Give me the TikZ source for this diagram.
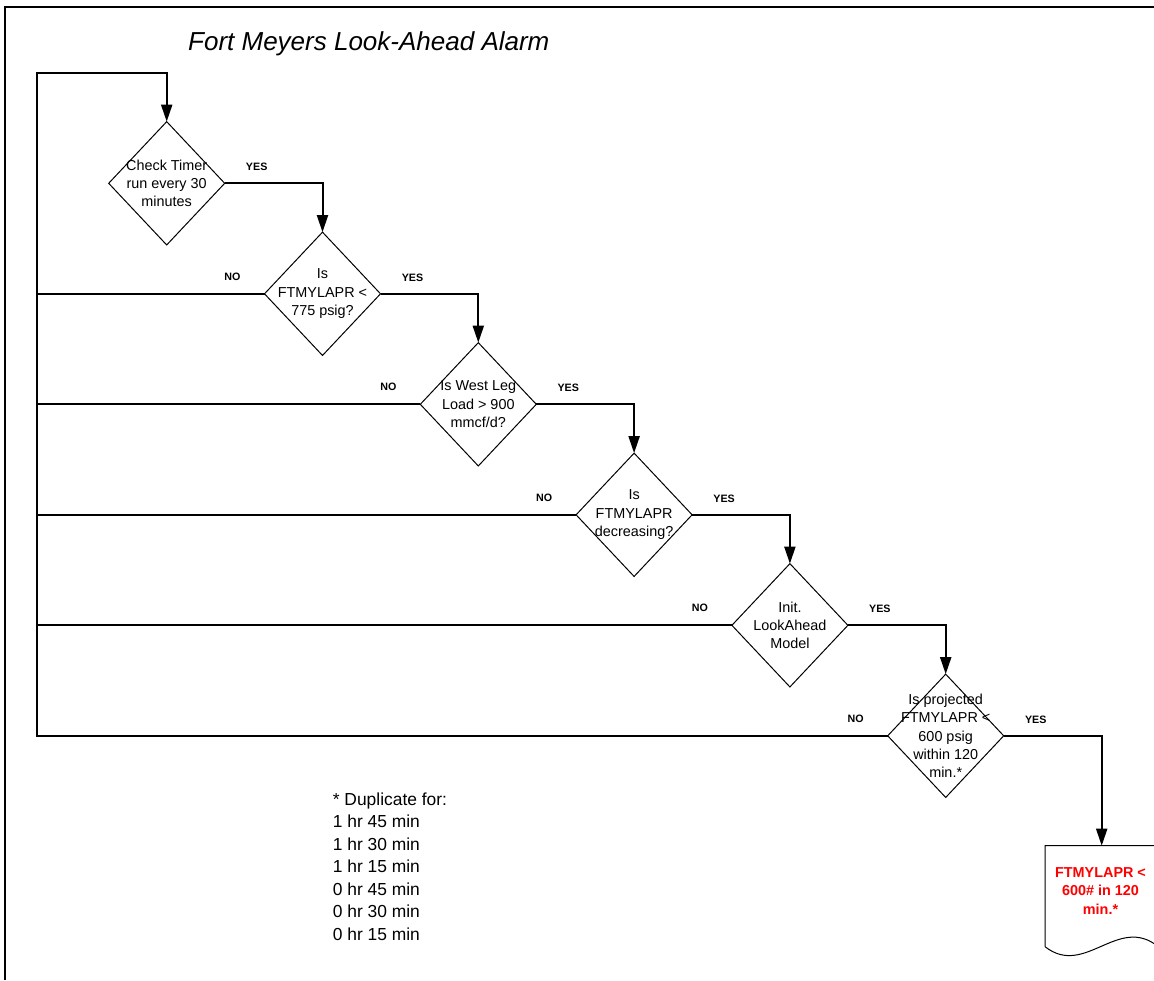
\documentclass[tikz,border=0pt]{standalone}
\usepackage{fontspec}
\setmainfont{Liberation Sans}
\usetikzlibrary{shapes.geometric,arrows.meta}
\definecolor{alarmred}{RGB}{255,0,0}
\begin{document}
\begin{tikzpicture}[x=1pt,y=-1pt,
  dec/.style={diamond, draw, line width=1pt, minimum width=116pt, minimum height=123.3pt, inner sep=0pt, outer sep=0pt},
  dtext/.style={align=center, font=\fontsize{14.4}{18.3}\selectfont, inner sep=0pt},
  conn/.style={line width=2pt},
  arr/.style={-{Triangle[length=17pt,width=11pt]}},
  yn/.style={font=\fontsize{10.7}{12}\selectfont\bfseries, inner sep=0pt},
  frame/.style={line width=2.4pt},
]
\useasboundingbox (0,0) rectangle (1154,980);
% page frame
\draw[frame] (5.2,980) -- (5.2,6.8) -- (1154,6.8);
% title
\node[anchor=base west, inner sep=0pt, font=\fontsize{26}{30}\selectfont\itshape] (title) at (188,50) {Fort Meyers Look-Ahead Alarm};
% decisions
\node[dec] (d1) at (166.7,183.3) {};
\node[dec] (d2) at (322.5,293.8) {};
\node[dec] (d3) at (478.3,404.3) {};
\node[dec] (d4) at (634.1,514.8) {};
\node[dec] (d5) at (789.9,625.3) {};
\node[dec] (d6) at (945.7,735.8) {};
\node[dtext] (t1) at (d1) {Check Timer\\run every 30\\minutes};
\node[dtext] (t2) at (d2) {Is\\FTMYLAPR <\\775 psig?};
\node[dtext] (t3) at (d3) {Is West Leg\\Load > 900\\mmcf/d?};
\node[dtext] (t4) at (d4) {Is\\FTMYLAPR\\decreasing?};
\node[dtext] (t5) at (d5) {Init.\\LookAhead\\Model};
\node[dtext] (t6) at (d6) {Is projected\\FTMYLAPR <\\600 psig\\within 120\\min.*};
% document output
\node[minimum width=113.3pt, minimum height=101pt, inner sep=0pt, outer sep=0pt] (doc) at (1101.7,896.2) {};
\draw[line width=1pt] (doc.south west) -- (doc.north west) -- (doc.north east) -- (doc.south east)
  .. controls (1118,914) and (1085,978) .. (doc.south west);
\node[align=center, inner sep=0pt, text=alarmred, font=\fontsize{14.4}{18.3}\selectfont\bfseries] (doctext) at (1100.5,891) {FTMYLAPR <\\600\# in 120\\min.*};
% loop
\coordinate (lb) at (36.7,735.8);
\coordinate (lt) at (36.7,72.7);
\draw[conn,arr] (d6.west) -- (lb) -- (lt) -| (d1.north);
\foreach \i in {2,3,4,5} {
  \draw[conn] (d\i.west) -- (d\i.west -| lb);
}
% yes branches
\draw[conn,arr] (d1.east) -| (d2.north);
\draw[conn,arr] (d2.east) -| (d3.north);
\draw[conn,arr] (d3.east) -| (d4.north);
\draw[conn,arr] (d4.east) -| (d5.north);
\draw[conn,arr] (d5.east) -| (d6.north);
\draw[conn,arr] (d6.east) -| (doc.north);
% labels
\node[yn] (y1) at ([shift={(32,-16)}]d1.east) {YES};
\foreach \i in {2,...,6} {
  \node[yn] (y\i) at ([shift={(32,-16)}]d\i.east) {YES};
  \node[yn] (n\i) at ([shift={(-32,-17)}]d\i.west) {NO};
}
% footnote
\node[anchor=base west, align=left, inner sep=0pt, font=\fontsize{17.4}{22.5}\selectfont] (foot) at (332.7,940) {* Duplicate for:\\1 hr 45 min\\1 hr 30 min\\1 hr 15 min\\0 hr 45 min\\0 hr 30 min\\0 hr 15 min};
\end{tikzpicture}
\end{document}
